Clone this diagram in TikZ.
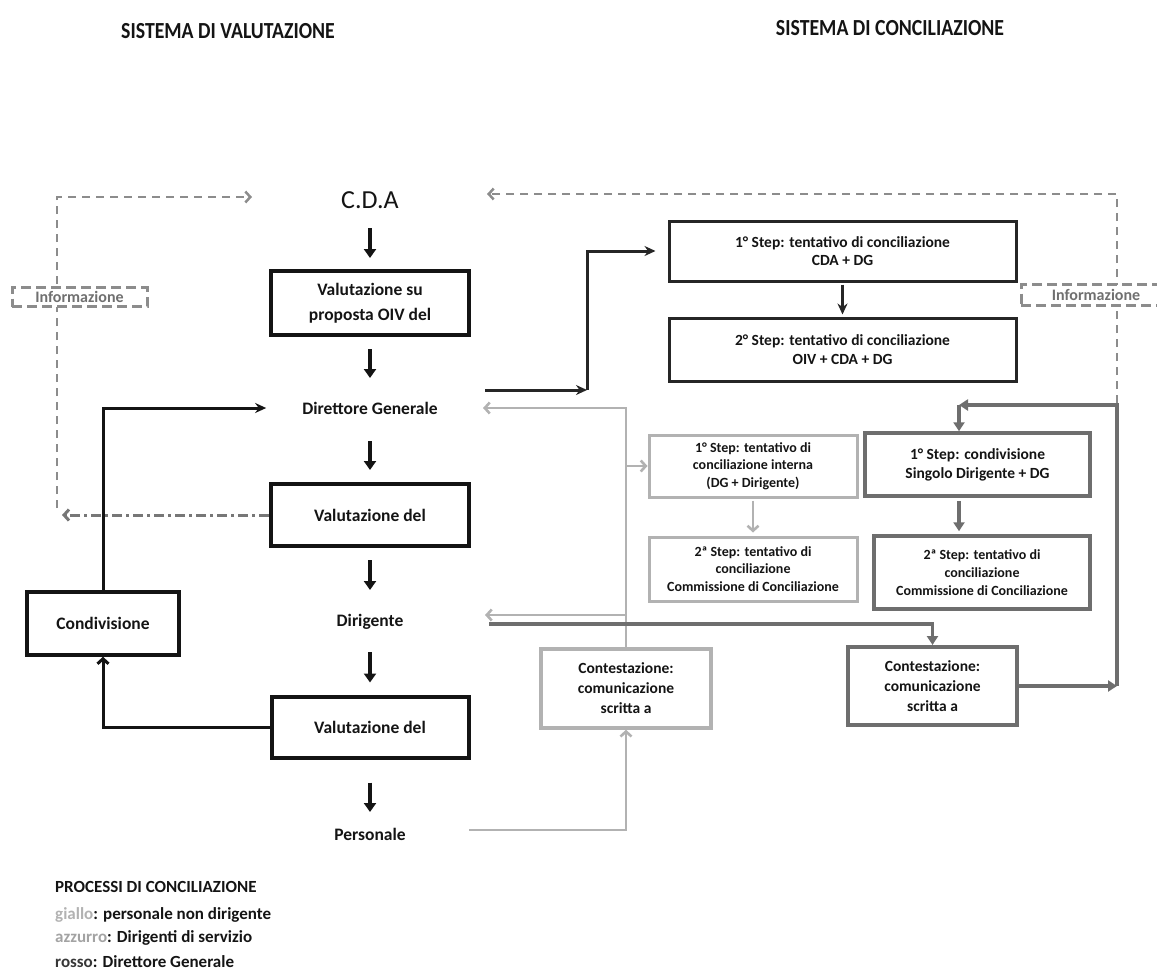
\documentclass[tikz,border=0pt]{standalone}
\usepackage{fontspec}
\setmainfont{Carlito}
\newfontfamily\titlefont[FakeStretch=0.86]{Carlito}
\usetikzlibrary{arrows.meta,calc}
\definecolor{blk}{HTML}{141414}
\definecolor{dbox}{HTML}{262626}
\definecolor{mgray}{HTML}{6E6E6E}
\definecolor{lgray}{HTML}{B2B2B2}
\definecolor{igray}{HTML}{8C8C8C}
\definecolor{itext}{HTML}{707070}
\begin{document}
\begin{tikzpicture}[x=1pt,y=-1pt,
  title/.style={font=\titlefont\fontsize{23}{26}\selectfont\bfseries, text=blk, inner sep=0pt},
  lbl/.style={font=\fontsize{17.5}{20}\selectfont\bfseries, text=blk, inner sep=0pt},
  lbox/.style={draw=blk, line width=4pt, align=center, inner sep=0pt,
    font=\fontsize{17.5}{25}\selectfont\bfseries, text=blk},
  dkbox/.style={draw=dbox, line width=3pt, align=center, inner sep=0pt,
    font=\fontsize{15.5}{18.5}\selectfont\bfseries, text=blk},
  ltbox/.style={draw=lgray, line width=3pt, align=center, inner sep=0pt,
    font=\fontsize{14}{17.5}\selectfont\bfseries, text=blk},
  mdbox/.style={draw=mgray, line width=3.5pt, align=center, inner sep=0pt,
    font=\fontsize{15.5}{19}\selectfont\bfseries, text=blk},
  infobox/.style={draw=igray, line width=3pt, dash pattern=on 10pt off 5pt, fill=white,
    text=itext, font=\fontsize{16}{18}\selectfont\bfseries, inner sep=0pt},
  sarr/.style={draw=blk, line width=3.5pt, -{Triangle[length=9pt,width=12pt]}},
  barr/.style={draw=blk, line width=3pt, -{Stealth[length=11pt,width=10pt]}},
  oarr/.style={draw=blk, line width=3pt, -{Straight Barb[length=5pt,width=11pt]}},
  darr/.style={draw=dbox, line width=3pt, -{Stealth[length=11pt,width=10pt]}},
  marr/.style={draw=mgray, line width=3.5pt, -{Triangle[length=9pt,width=11pt]}},
  garr/.style={draw=lgray, line width=2.6pt, -{Straight Barb[length=5pt,width=11pt]}},
  dsh/.style={draw=igray, line width=2.5pt, dash pattern=on 8pt off 6pt, -{Straight Barb[length=5pt,width=11pt]}},
  dshd/.style={draw=igray!85!black, line width=3pt, dash pattern=on 10pt off 4pt on 3pt off 4pt, -{Straight Barb[length=5pt,width=11pt]}},
  leg/.style={font=\fontsize{17}{20}\selectfont\bfseries, text=blk, inner sep=0pt, anchor=west}
]
\useasboundingbox (0,0) rectangle (1157,972);

% titles
\node[title] (t1) at (228,31) {SISTEMA DI VALUTAZIONE};
\node[title] (t2) at (890,28) {SISTEMA DI CONCILIAZIONE};

% left column
\node[font=\fontsize{26}{30}\selectfont, text=blk, inner sep=0pt] (cda) at (370,200) {C.D.A};
\node[lbox, minimum width=198, minimum height=64] (voiv) at (370,303) {Valutazione su\\proposta OIV del};
\node[lbl] (dg) at (370,408) {Direttore Generale};
\node[lbox, minimum width=198, minimum height=62] (vdg) at (370,515) {Valutazione del};
\node[lbl] (dir) at (370,622) {Dirigente};
\node[lbox, minimum width=197, minimum height=61] (vdir) at (370,727.5) {Valutazione del};
\node[lbl] (pers) at (370,834) {Personale};
\node[lbox, line width=3.5pt, minimum width=152, minimum height=63] (cond) at (103,623.5) {Condivisione};

\draw[sarr, shorten <=28pt, shorten >=45pt] (cda.center) -- (voiv.center);
\draw[sarr, shorten <=46pt, shorten >=30pt] (voiv.center) -- (dg.center);
\draw[sarr, shorten <=33pt, shorten >=45pt] (dg.center) -- (vdg.center);
\draw[sarr, shorten <=45pt, shorten >=32pt] (vdg.center) -- (dir.center);
\draw[sarr, shorten <=30pt, shorten >=45pt] (dir.center) -- (vdir.center);
\draw[sarr, shorten <=55pt, shorten >=22pt] (vdir.center) -- (pers.center);

\draw[oarr] (vdir.west) -| (cond.south);
\draw[barr, shorten >=36pt] (cond.north) |- (dg.west);

% right upper
\node[dkbox, minimum width=347, minimum height=60] (b1) at (842.5,251) {1° Step: tentativo di conciliazione\\CDA + DG};
\node[dkbox, minimum width=347, minimum height=63] (b2) at (842.5,349.5) {2° Step: tentativo di conciliazione\\OIV + CDA + DG};
\coordinate (j0) at (485,390);
\coordinate (j1) at (587,390);
\draw[darr] (j0) -- (j1);
\draw[darr, shorten >=12pt] (j1) |- (b1.west);
\draw[darr, shorten <=2pt, shorten >=2pt] (b1.south) -- (b2.north);

% light gray process (giallo)
\node[ltbox, minimum width=208, minimum height=62] (i1) at (753,466) {1° Step: tentativo di\\conciliazione interna\\(DG + Dirigente)};
\node[ltbox, minimum width=208, minimum height=64] (i2) at (753,569) {2ª Step: tentativo di\\conciliazione\\Commissione di Conciliazione};
\node[ltbox, line width=3.5pt, minimum width=170, minimum height=79, font=\fontsize{15.5}{20}\selectfont\bfseries] (cl) at (626,688.5) {Contestazione:\\comunicazione\\scritta a};
\coordinate (p0) at (469,830);
\coordinate (tg1) at (483,408);
\coordinate (tg2) at (485,615);
\draw[garr] (p0) -| (cl.south);
\draw[garr] (cl.north) |- (tg1);
\draw[garr] (i1.west -| cl.north) -- (i1.west);
\draw[garr] (tg2 -| cl.north) -- (tg2);
\draw[garr, shorten <=2pt, shorten >=3pt] (i1.south) -- (i2.north);

% medium gray process (azzurro)
\node[mdbox, minimum width=225, minimum height=63] (c1) at (977.5,464.5) {1° Step: condivisione\\Singolo Dirigente + DG};
\node[mdbox, minimum width=216, minimum height=73, font=\fontsize{14}{18.3}\selectfont\bfseries] (c2) at (982,572.5) {2ª Step: tentativo di\\conciliazione\\Commissione di Conciliazione};
\node[mdbox, line width=4pt, minimum width=169, minimum height=78, font=\fontsize{15.5}{20}\selectfont\bfseries] (cr) at (932.5,686) {Contestazione:\\comunicazione\\scritta a};
\coordinate (d0) at (489,624);
\coordinate (rr) at (1117,686);
\coordinate (c0) at (959,405);
\draw[marr] (d0) -| (cr.north);
\draw[marr] (cr.east) -- (rr);
\draw[marr] (rr) |- (c0);
\draw[marr] (c0) -- (c0 |- c1.north);
\draw[marr, shorten <=3pt, shorten >=3pt] (c1.south -| c0) -- (c2.north -| c0);

% information lines
\coordinate (ir) at (1117,403);
\coordinate (it) at (487,194);
\draw[dsh] (ir) |- (it);
\coordinate (il) at (57,508);
\coordinate (ilt) at (252,197);
\coordinate (ila) at (62,515);
\draw[dsh] (il) |- (ilt);
\draw[dshd] (vdg.west) -- (ila);
\node[infobox, minimum width=135, minimum height=19] (inf1) at (79.5,297) {Informazione};
\node[infobox, minimum width=150, minimum height=21] (inf2) at (1096,295) {Informazione};

% legend
\node[leg] (lg0) at (55,887) {PROCESSI DI CONCILIAZIONE};
\node[leg] (lg1) at (55,915) {{\color{lgray}giallo}: personale non dirigente};
\node[leg] (lg2) at (55,938) {{\color{igray!80}azzurro}: Dirigenti di servizio};
\node[leg] (lg3) at (55,962) {{\color{blk!85}rosso}: Direttore Generale};
\end{tikzpicture}
\end{document}
